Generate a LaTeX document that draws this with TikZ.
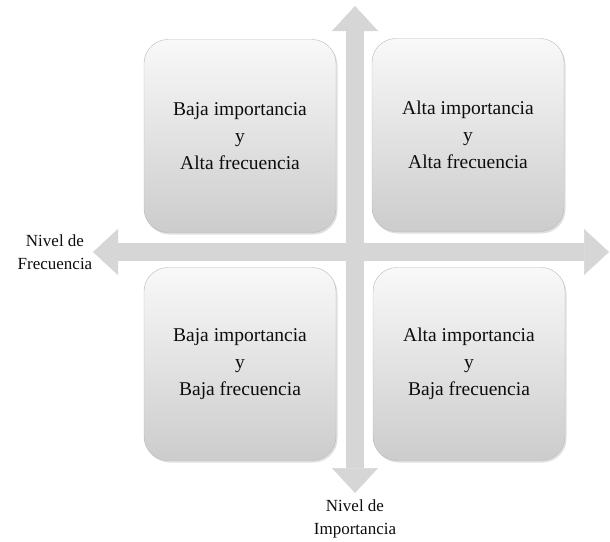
\documentclass[tikz,border=0pt]{standalone}
\usepackage{fontspec}
\setmainfont{Liberation Serif}
\usetikzlibrary{arrows.meta,shadows}

\begin{document}
\begin{tikzpicture}[x=1pt,y=-1pt,
caja/.style={draw=gray!55,thin,rounded corners=24pt,top color=gray!5,bottom color=gray!40,
 minimum width=192pt,minimum height=193pt,align=center,font=\fontsize{19.5}{27}\selectfont,
 text=black!95,drop shadow={shadow xshift=1.5pt,shadow yshift=-2pt,opacity=.25}},
eje/.style={line width=18pt,draw=gray!32,
 {Triangle[width=46pt,length=25pt,line width=.5pt]}-{Triangle[width=46pt,length=25pt,line width=.5pt]}},
rotulo/.style={align=center,font=\fontsize{17}{23}\selectfont,text=black!95}]
\useasboundingbox (0,0) rectangle (610,541);
\coordinate (N) at (355,6);\coordinate (S) at (355,493);
\coordinate (O) at (93,252);\coordinate (E) at (609,252);
\draw[eje](O)--(E);
\draw[eje](N)--(S);
% cuadrantes
\node[caja] (BA) at (240,136) {Baja importancia\\y\\Alta frecuencia};
\node[caja] (AA) at (468,135) {Alta importancia\\y\\Alta frecuencia};
\node[caja] (BB) at (240,364) {Baja importancia\\y\\Baja frecuencia};
\node[caja] (AB) at (469,364) {Alta importancia\\y\\Baja frecuencia};
% ejes
\node[rotulo] (frec) at (55,252) {Nivel de\\Frecuencia};
\node[rotulo] (imp) at (355,519) {Nivel de\\Importancia};
\end{tikzpicture}
\end{document}
